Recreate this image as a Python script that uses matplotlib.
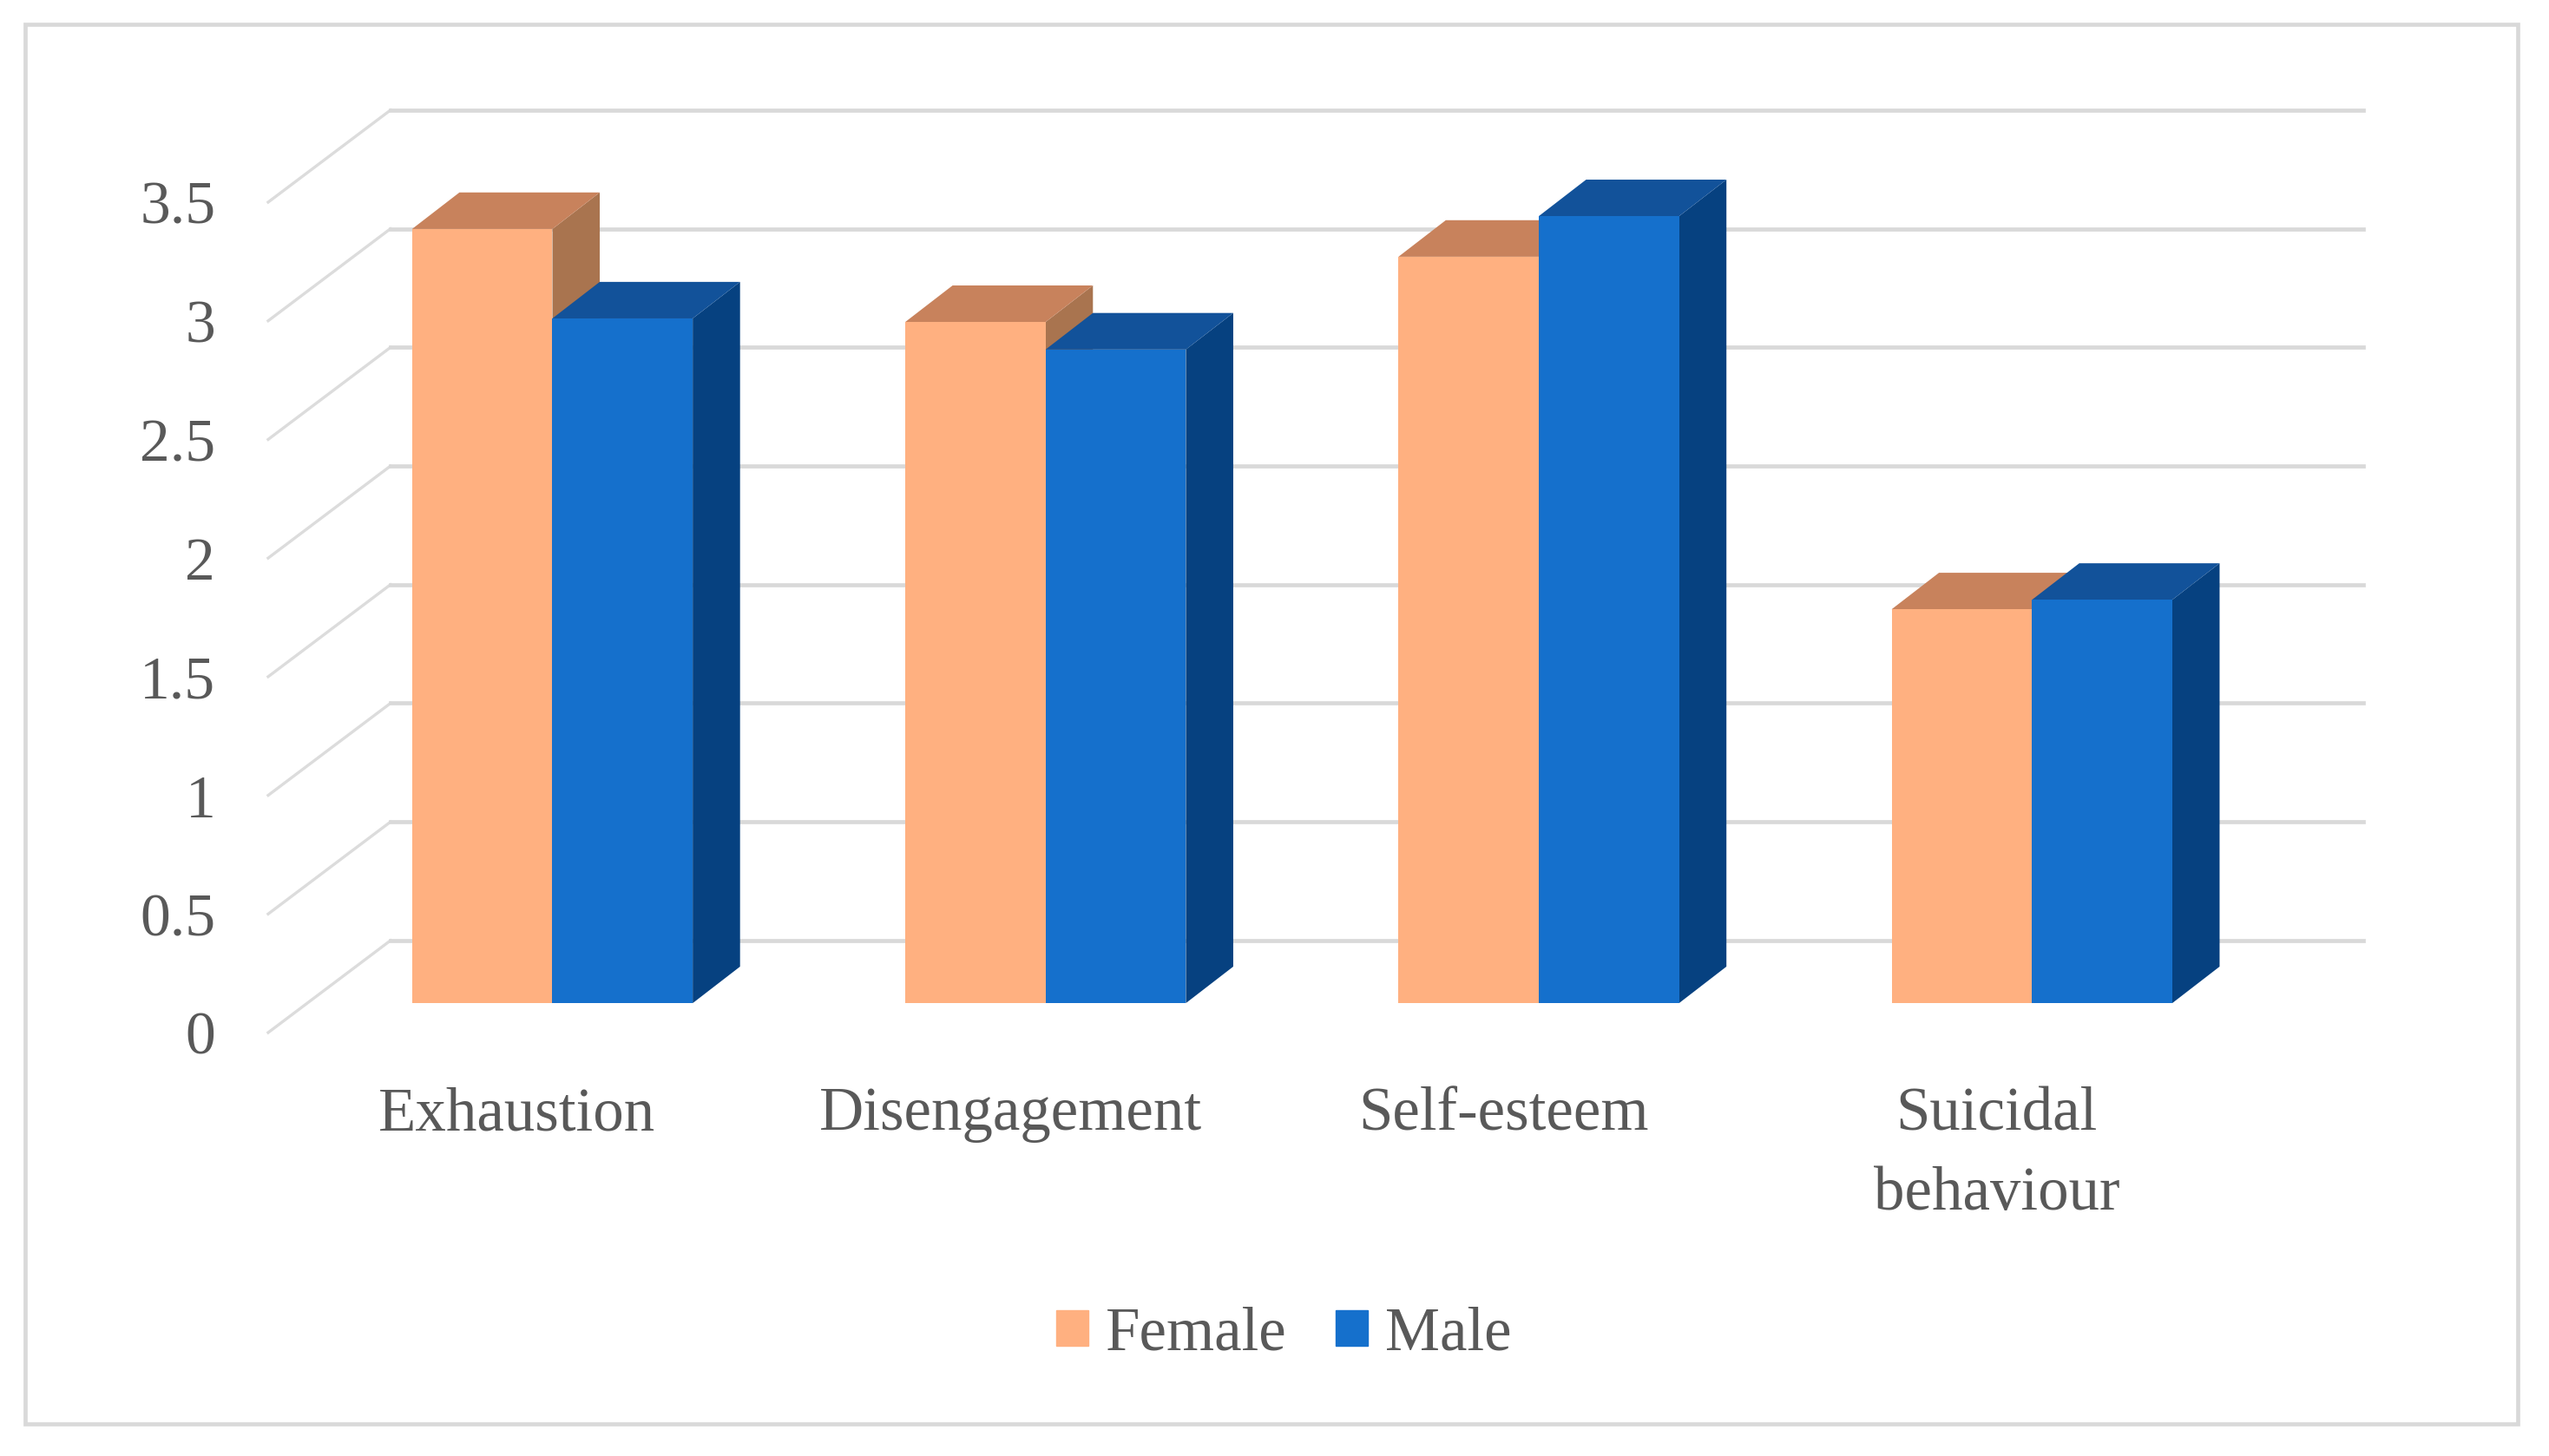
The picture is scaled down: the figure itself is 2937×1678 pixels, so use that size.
import matplotlib
matplotlib.use('Agg')
import matplotlib.pyplot as plt
from matplotlib.patches import Polygon, Rectangle

W, H = 2937, 1678

categories = ['Exhaustion', 'Disengagement', 'Self-esteem', 'Suicidal\nbehaviour']
female = [3.263, 2.871, 3.146, 1.66]
male = [2.886, 2.755, 3.317, 1.70]
y_ticks = [0, 0.5, 1, 1.5, 2, 2.5, 3, 3.5]
y_tick_labels = ['0', '0.5', '1', '1.5', '2', '2.5', '3', '3.5']

FEMALE = ('#FFB080', '#C8825C', '#A9744F')
MALE = ('#1570CC', '#12529A', '#064180')
GRID = '#D9D9D9'
TEXT = '#595959'


def px_x(x):
    return x / W


def px_y(y):
    return 1 - y / H


plt.rcParams['font.family'] = ['Liberation Serif', 'DejaVu Serif']
fig = plt.figure(figsize=(W / 100, H / 100), dpi=100)

# outer frame of the picture
fig.add_artist(Rectangle((px_x(29), px_y(1641)), px_x(2872), 1613 / H, fill=False,
                         edgecolor=GRID, linewidth=3.4, transform=fig.transFigure))

# front plane of the fake 3d box, one x unit = one category
left, right, bottom, top = 309, 2582, 1190, 233
ax = fig.add_axes([px_x(left), px_y(bottom), px_x(right - left), (bottom - top) / H])
ax.set_xlim(0, 4)
ax.set_ylim(0, 3.5)
ax.axis('off')

# depth of the floor and of a bar, in data units
floor_dx, floor_dy = 0.248, 0.388
bar_dx, bar_dy = 0.096, 0.154
shift_x, shift_y = 0.0763, 0.124
bar_w = 0.2845
line_gap = 0.336

for v in y_ticks:
    ax.plot([0, floor_dx], [v, v + floor_dy], color='#DCDCDC', linewidth=2.4,
            clip_on=False, zorder=1)
    ax.plot([floor_dx, 4 + floor_dx], [v + floor_dy, v + floor_dy], color=GRID, linewidth=3.4,
            clip_on=False, zorder=1)


def draw_bar(x0, v, colors):
    x1 = x0 + bar_w
    y0 = shift_y
    y1 = v + shift_y
    ax.add_patch(Polygon([(x1, y0), (x1 + bar_dx, y0 + bar_dy), (x1 + bar_dx, y1 + bar_dy), (x1, y1)],
                         facecolor=colors[2], edgecolor='none', clip_on=False, zorder=3))
    ax.add_patch(Polygon([(x0, y1), (x1, y1), (x1 + bar_dx, y1 + bar_dy), (x0 + bar_dx, y1 + bar_dy)],
                         facecolor=colors[1], edgecolor='none', clip_on=False, zorder=3))
    ax.add_patch(Rectangle((x0, y0), bar_w, v, facecolor=colors[0], edgecolor='none',
                           clip_on=False, zorder=3))


for i, cat in enumerate(categories):
    center = i + 0.5 + shift_x
    draw_bar(center - bar_w, female[i], FEMALE)
    draw_bar(center, male[i], MALE)
    # one text per line, so the first baseline stays level with the other labels
    for n, line in enumerate(cat.split('\n')):
        ax.text(i + 0.505, -0.41 - n * line_gap, line, ha='center', va='baseline', fontsize=51,
                color=TEXT, clip_on=False)

for v, lab in zip(y_ticks, y_tick_labels):
    ax.text(-0.107, v - 0.03, lab, ha='right', va='center', fontsize=50, color=TEXT, clip_on=False)

handles = [Rectangle((0, 0), 1, 1, color=FEMALE[0]), Rectangle((0, 0), 1, 1, color=MALE[0])]
fig.legend(handles, ['Female', 'Male'], loc='center', bbox_to_anchor=(px_x(1479), px_y(1538)), ncol=2,
           frameon=False, fontsize=51, labelcolor=TEXT, handlelength=0.53, handleheight=0.53,
           handletextpad=0.27, columnspacing=0.8)

fig.savefig('out.png', dpi=100)
